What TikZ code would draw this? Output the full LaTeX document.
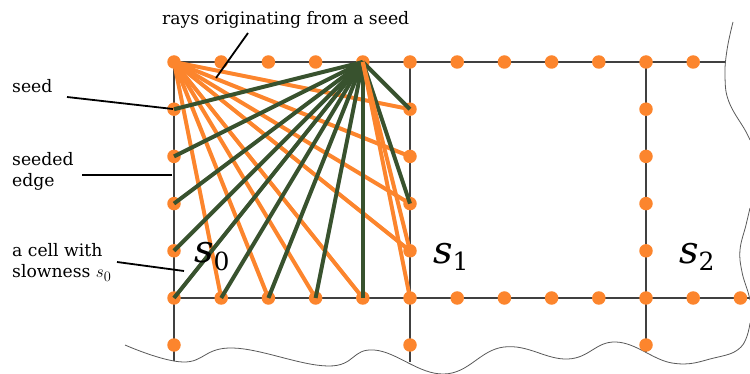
\documentclass[tikz,border=0pt]{standalone}
\usepackage{fontspec}
\setmainfont{DejaVu Serif}
\definecolor{rayorange}{RGB}{252,133,45}
\definecolor{raygreen}{RGB}{56,82,46}
\begin{document}
\begin{tikzpicture}[x=1pt,y=-1pt,
  dotn/.style={circle,fill=rayorange,inner sep=0pt,minimum size=13.5pt},
  gridline/.style={black!75,line width=1.1pt},
  wave/.style={black!65,line width=0.8pt},
  oray/.style={rayorange,line width=4pt},
  gray2/.style={raygreen,line width=4pt},
  pointer/.style={black,line width=1.8pt},
  lbl/.style={font=\fontsize{17.2}{21.5}\selectfont,inner sep=0pt,anchor=base west,align=left},
  bigs/.style={inner sep=0pt,anchor=base west}
]
\useasboundingbox (0,0) rectangle (750,374);
% grid lines
\coordinate (tl) at (174,62);
\coordinate (tr) at (726,62);
\coordinate (bl) at (174,298);
\coordinate (br) at (750,298);
\coordinate (v0a) at (174,62);  \coordinate (v0b) at (174,361);
\coordinate (v1a) at (410,62);  \coordinate (v1b) at (410,362);
\coordinate (v2a) at (646,62);  \coordinate (v2b) at (646,352);
\draw[gridline] (tl) -- (tr);
\draw[gridline] (bl) -- (br);
\draw[gridline] (v0a) -- (v0b);
\draw[gridline] (v1a) -- (v1b);
\draw[gridline] (v2a) -- (v2b);
% torn edges
\draw[wave] plot[smooth,tension=0.7] coordinates {
  (733,22) (727,50) (725,77) (729,102) (745,130) (750,140)};
\draw[wave] plot[smooth,tension=0.7] coordinates {
  (750,208) (746,225) (740,250) (742,272) (748,292) (750,300)};
\draw[wave] plot[smooth,tension=0.7] coordinates {
  (125,345) (183,362) (233,348) (328,366) (374,350) (444,374) (504,347) (568,359) (616,342) (672,363) (714,358) (741,347) (750,323)};
% dots
\foreach \i in {0,...,11} \node[dotn] (t\i) at ({174+47.2*\i},62) {};
\foreach \i in {0,...,12} \node[dotn] (b\i) at ({174+47.2*\i},298) {};
\foreach \k in {1,...,4} {
  \node[dotn] (L\k) at (174,{62+47.2*\k}) {};
  \node[dotn] (R\k) at (410,{62+47.2*\k}) {};
  \node[dotn] (Q\k) at (646,{62+47.2*\k}) {};
}
\node[dotn] (Lb) at (174,345) {};
\node[dotn] (Rb) at (410,345) {};
\node[dotn] (Qb) at (646,345) {};
% rays from the seed
\foreach \n in {R1,R2,R3,R4,b4,b3,b2,b1} \draw[oray] (t0.center) -- (\n.center);
% rays from the second seed
\foreach \n in {L1,L2,L3,L4,b0,b1,b2,b3,b4,R1,R3} \draw[gray2] (t4.center) -- (\n.center);
\foreach \n in {R4,b5} \draw[oray] (t4.center) -- (\n.center);
% labels
\node[lbl] (lrays) at (162,25) {rays originating from a seed};
\node[lbl] (lseed) at (12,93) {seed};
\node[lbl] (ledge) at (12,187) {seeded\\edge};
\node[lbl] (lcell) at (12,278) {a cell with\\slowness {\fontsize{19}{19}\selectfont$s_0$}};
\coordinate (p1a) at (248,33); \coordinate (p1b) at (216,78);
\coordinate (p2a) at (67,97);  \coordinate (p2b) at (173,109);
\coordinate (p3a) at (82,175); \coordinate (p3b) at (172,175);
\coordinate (p4a) at (117,262); \coordinate (p4b) at (184,271);
\draw[pointer] (p1a) -- (p1b);
\draw[pointer] (p2a) -- (p2b);
\draw[pointer] (p3a) -- (p3b);
\draw[pointer] (p4a) -- (p4b);
% cell slowness symbols
\node[bigs] (s0) at (194,263) {{\fontsize{38}{38}\selectfont\itshape s}\raisebox{-8pt}{\fontsize{25}{25}\selectfont 0}};
\node[bigs] (s1) at (433,264) {{\fontsize{38}{38}\selectfont\itshape s}\raisebox{-7pt}{\fontsize{25}{25}\selectfont 1}};
\node[bigs] (s2) at (679,264) {{\fontsize{38}{38}\selectfont\itshape s}\raisebox{-7pt}{\fontsize{25}{25}\selectfont 2}};
\end{tikzpicture}
\end{document}
